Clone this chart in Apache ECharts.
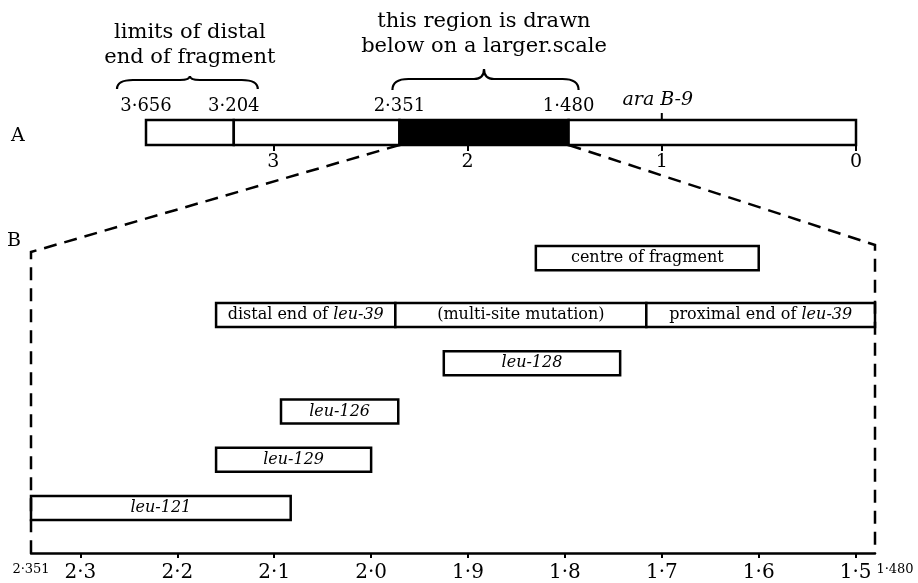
<!DOCTYPE html>
<html><head><meta charset="utf-8">
<script src="https://cdn.jsdelivr.net/npm/echarts@6/dist/echarts.min.js"></script>
<style>html,body{margin:0;padding:0;background:#fff}#c{width:918px;height:583px}</style>
</head><body><div id="c"></div>
<script>
// ---------- Panel A: whole map ----------
const mapSegStart  = [3.656, 3.204, 2.351, 1.480];
const mapSegEnd    = [3.204, 2.351, 1.480, 0];
const mapSegFilled = [false, false, true, false];
const mapTicks     = [0, 1, 2, 3];
const mapPointLabels = [3.656, 3.204, 2.351, 1.480];
const markerName = 'ara B-9';
const markerPos  = [1];
const braceFrom = [3.656, 2.351];
const braceTo   = [3.204, 1.480];
const braceText = ['limits of distal\nend of fragment', 'this region is drawn\nbelow on a larger.scale'];

// ---------- Panel B: enlarged region ----------
const zoomMin = 1.480, zoomMax = 2.351;
const zoomTicks = [2.3, 2.2, 2.1, 2.0, 1.9, 1.8, 1.7, 1.6, 1.5];
const boxLabels = ['centre of fragment', 'distal end of {i|leu-39}', '(multi-site mutation)', 'proximal end of {i|leu-39}',
                   '{i|leu-128}', '{i|leu-126}', '{i|leu-129}', '{i|leu-121}'];
const boxStart = [1.830, 2.160, 1.975, 1.716, 1.925, 2.093, 2.160, 2.351];
const boxEnd   = [1.600, 1.975, 1.716, 1.480, 1.743, 1.972, 2.000, 2.083];
const boxRow   = [5.18, 4, 4, 4, 3, 2, 1, 0];

const FF = 'DejaVu Serif';
const fmt = (v, d) => v.toFixed(d).replace('.', '\u00b7');

const chart = echarts.init(document.getElementById('c'));
const Y_MIN = -0.933, Y_MAX = 5.513;

chart.setOption({
  animation: false,
  backgroundColor: '#fff',
  textStyle: { fontFamily: FF, color: '#000' },
  grid: [
    { left: 146, right: 62, top: 120, height: 25 },
    { left: 31, right: 43, top: 242, bottom: 30 }
  ],
  xAxis: [
    { gridIndex: 0, type: 'value', min: 0, max: 3.656, inverse: true,
      axisLine: { show: false }, splitLine: { show: false },
      axisTick: { show: true, customValues: mapTicks, length: 6, lineStyle: { color: '#000', width: 2 } },
      axisLabel: { customValues: mapTicks, formatter: v => String(Math.round(v)), fontSize: 19, fontFamily: FF, color: '#000', margin: 8 } },
    { gridIndex: 1, type: 'value', min: zoomMin, max: zoomMax, inverse: true,
      axisLine: { show: true, onZero: false, lineStyle: { color: '#000', width: 2.5 } }, splitLine: { show: false },
      axisTick: { show: true, customValues: zoomTicks, length: 5, lineStyle: { color: '#000', width: 2 } },
      axisLabel: { customValues: [zoomMax].concat(zoomTicks, [zoomMin]), fontSize: 20, fontFamily: FF, color: '#000', margin: 10,
        formatter: v => {
          if (Math.abs(v - zoomMax) < 1e-6) return '{e|' + fmt(v, 3) + '}';
          if (Math.abs(v - zoomMin) < 1e-6) return '{f|' + fmt(v, 3) + '}';
          return fmt(v, 1);
        },
        rich: { e: { fontSize: 13, fontFamily: FF, color: '#000', padding: [0, 0, 4, 0] },
                f: { fontSize: 13, fontFamily: FF, color: '#000', padding: [0, 0, 6, 40] } } } }
  ],
  yAxis: [
    { gridIndex: 0, type: 'value', min: 0, max: 1, show: false },
    { gridIndex: 1, type: 'value', min: Y_MIN, max: Y_MAX, show: false }
  ],
  series: [
    { // map bar segments
      type: 'custom', xAxisIndex: 0, yAxisIndex: 0,
      data: mapSegStart.map((s, i) => [s, mapSegEnd[i]]),
      encode: { x: [0, 1] },
      renderItem: (params, api) => {
        const i = params.dataIndex;
        const p0 = api.coord([api.value(0), 1]);
        const p1 = api.coord([api.value(1), 0]);
        return { type: 'rect', shape: { x: Math.min(p0[0], p1[0]), y: p0[1], width: Math.abs(p1[0] - p0[0]), height: p1[1] - p0[1] },
                 style: { fill: mapSegFilled[i] ? '#000' : '#fff', stroke: '#000', lineWidth: 2.5 } };
      }
    },
    { // labels above the map bar
      type: 'custom', xAxisIndex: 0, yAxisIndex: 0,
      data: mapPointLabels.map(v => [v]),
      encode: { x: 0 },
      renderItem: (params, api) => {
        const p = api.coord([api.value(0), 1]);
        return { type: 'text', style: { text: fmt(api.value(0), 3), x: p[0], y: p[1] - 14, align: 'center', verticalAlign: 'middle',
                 fontFamily: FF, fontSize: 18, fill: '#000' } };
      }
    },
    { // ara B-9 marker
      type: 'custom', xAxisIndex: 0, yAxisIndex: 0,
      data: markerPos.map(v => [v]),
      encode: { x: 0 },
      renderItem: (params, api) => {
        const p = api.coord([api.value(0), 1]);
        return { type: 'group', children: [
          { type: 'line', shape: { x1: p[0], y1: p[1] - 7, x2: p[0], y2: p[1] }, style: { stroke: '#000', lineWidth: 2 } },
          { type: 'text', style: { text: markerName, x: p[0] - 4, y: p[1] - 20, align: 'center', verticalAlign: 'middle',
                                   fontFamily: FF, fontSize: 19, fontStyle: 'italic', fill: '#000' } }
        ] };
      }
    },
    { // braces with captions
      type: 'custom', xAxisIndex: 0, yAxisIndex: 0,
      data: braceFrom.map((f, i) => [f, braceTo[i]]),
      encode: { x: [0, 1] },
      renderItem: (params, api) => {
        const i = params.dataIndex;
        const layout = [ { padL: 29, padR: 24, tip: 76, flat: 80, end: 89, textY: 45 },
                         { padL: 7, padR: 10, tip: 69, flat: 79, end: 90, textY: 34 } ][i];
        const x0 = api.coord([api.value(0), 1])[0] - layout.padL;
        const x1 = api.coord([api.value(1), 1])[0] + layout.padR;
        const xc = (api.coord([api.value(0), 1])[0] + api.coord([api.value(1), 1])[0]) / 2;
        const f = layout.flat, e = layout.end, t = layout.tip;
        const path = `M${x0},${e} Q${x0},${f} ${x0 + 16},${f} L${xc - 10},${f} Q${xc},${f} ${xc},${t} Q${xc},${f} ${xc + 10},${f} L${x1 - 16},${f} Q${x1},${f} ${x1},${e}`;
        return { type: 'group', children: [
          { type: 'path', shape: { pathData: path }, style: { fill: 'none', stroke: '#000', lineWidth: 2.2 } },
          { type: 'text', style: { text: braceText[i], x: xc, y: layout.textY, align: 'center', verticalAlign: 'middle',
                                   fontFamily: FF, fontSize: 21, lineHeight: 25, fill: '#000' } }
        ] };
      }
    },
    { // boxes in panel B
      type: 'custom', xAxisIndex: 1, yAxisIndex: 1,
      data: boxLabels.map((l, i) => [boxStart[i], boxEnd[i], boxRow[i]]),
      encode: { x: [0, 1], y: 2 },
      renderItem: (params, api) => {
        const i = params.dataIndex;
        const a = api.coord([api.value(0), api.value(2) + 0.25]);
        const b = api.coord([api.value(1), api.value(2) - 0.25]);
        const x = Math.min(a[0], b[0]), w = Math.abs(b[0] - a[0]);
        return { type: 'group', children: [
          { type: 'rect', shape: { x: x, y: a[1], width: w, height: b[1] - a[1] }, style: { fill: '#fff', stroke: '#000', lineWidth: 2.5 } },
          { type: 'text', style: { text: boxLabels[i], x: x + w / 2, y: (a[1] + b[1]) / 2, align: 'center', verticalAlign: 'middle',
                                   fontFamily: FF, fontSize: 16, fill: '#000',
                                   rich: { i: { fontStyle: 'italic', fontFamily: FF, fontSize: 16, fill: '#000' } } } }
        ] };
      }
    }
  ]
});

// dashed projection lines from panel A to panel B
const aL = chart.convertToPixel({ gridIndex: 0 }, [zoomMax, 0]);
const aR = chart.convertToPixel({ gridIndex: 0 }, [zoomMin, 0]);
const bLt = chart.convertToPixel({ gridIndex: 1 }, [zoomMax, Y_MAX]);
const bLb = chart.convertToPixel({ gridIndex: 1 }, [zoomMax, Y_MIN]);
const bRt = chart.convertToPixel({ gridIndex: 1 }, [zoomMin, Y_MAX]);
const bRb = chart.convertToPixel({ gridIndex: 1 }, [zoomMin, Y_MIN]);
const dash = { stroke: '#000', lineWidth: 2.5, lineDash: [13, 8], fill: 'none' };
chart.setOption({
  graphic: [
    { type: 'polyline', shape: { points: [aL, [bLt[0], bLt[1] + 10], bLb] }, style: dash, z: 5 },
    { type: 'polyline', shape: { points: [aR, [bRt[0], bRt[1] + 3], bRb] }, style: dash, z: 5 },
    { type: 'text', left: 11, top: 127, style: { text: 'A', fontFamily: FF, fontSize: 19, fill: '#000' } },
    { type: 'text', left: 7, top: 232, style: { text: 'B', fontFamily: FF, fontSize: 19, fill: '#000' } }
  ]
});
</script>
</body></html>
